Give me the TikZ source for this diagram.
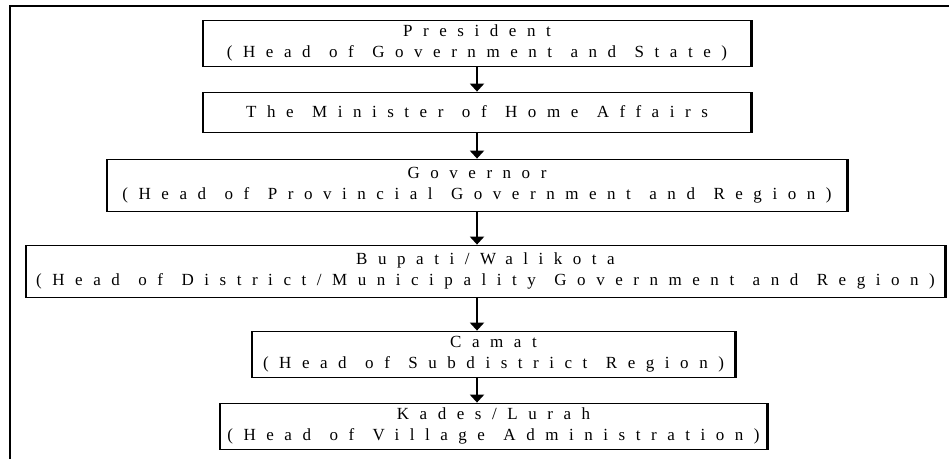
\documentclass[tikz,border=0pt]{standalone}
\usepackage{fontspec}
\usepackage{tikz}
\usetikzlibrary{arrows.meta}
\newfontfamily\spacedfont{Liberation Serif}[LetterSpace=62, WordSpace=1.25]

\begin{document}
\begin{tikzpicture}[
		box/.style={rectangle, draw=black, line width=0.8pt, fill=white, align=center, inner sep=0pt,
			font=\fontsize{17pt}{21pt}\selectfont\spacedfont,
			path picture={\draw[line width=4pt] (path picture bounding box.north west) -- (path picture bounding box.south west)
				(path picture bounding box.north east) -- (path picture bounding box.south east);}},
		flow/.style={line width=2.6pt, color=black, -{Triangle[width=14pt, length=8pt]}}]
				\useasboundingbox (0pt, 0pt) rectangle (949pt, -459pt);
				% outer frame
				\draw [line width=1.3pt, color=black] (10pt, -459pt) -- (10pt, -6pt) -- (949pt, -6pt);
				\node (president) [box, minimum width=550pt, minimum height=46pt] at (477pt, -43pt) {President\\(Head of Government and State)};
				\node (minister) [box, minimum width=550pt, minimum height=40pt] at (477pt, -112pt) {The Minister of Home Affairs};
				\node (governor) [box, minimum width=742pt, minimum height=52pt] at (477pt, -185pt) {Governor\\(Head of Provincial Government and Region)};
				\node (bupati) [box, minimum width=921pt, minimum height=52pt] at (485.5pt, -271pt) {Bupati/Walikota\\(Head of District/Municipality Government and Region)};
				\node (camat) [box, minimum width=485pt, minimum height=46pt] at (493.5pt, -354pt) {Camat\\(Head of Subdistrict Region)};
				\node (kades) [box, minimum width=549pt, minimum height=46pt] at (493.5pt, -426pt) {Kades/Lurah\\(Head of Village Administration)};
				\draw [flow] (president) to (minister);
				\draw [flow] (minister) to (governor);
				\draw [flow] (governor.south) to (bupati.north -| governor.south);
				\draw [flow] (bupati.south -| governor.south) to (camat.north -| governor.south);
				\draw [flow] (camat.south -| governor.south) to (kades.north -| governor.south);
			\end{tikzpicture}
\end{document}
